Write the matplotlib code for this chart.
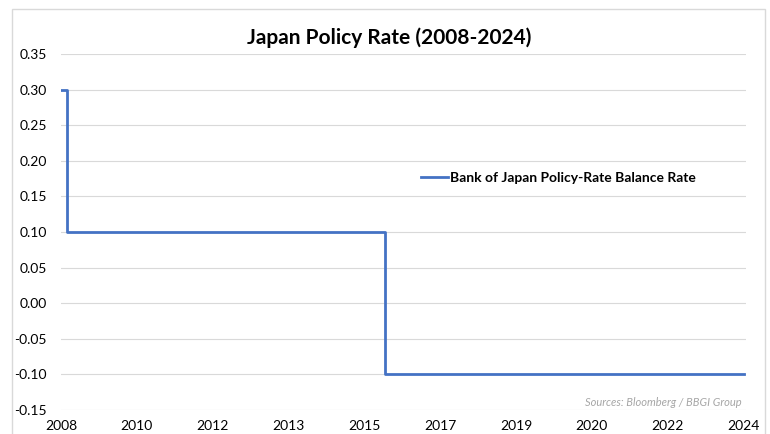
import matplotlib
matplotlib.use("Agg")
import matplotlib.pyplot as plt
import matplotlib.dates as mdates
from matplotlib.patches import Rectangle
import numpy as np
import datetime as dt

# policy rate changes (step series)
change_dates = ["2008-10-31", "2008-12-19", "2016-02-16", "2024-03-18"]
rates = [0.30, 0.10, -0.10, -0.10]
tick_labels = ["2008", "2010", "2012", "2013", "2015", "2017", "2019", "2020", "2022", "2024"]

plt.rcParams['font.family'] = ['Lato', 'DejaVu Sans']

dates = [dt.datetime.strptime(d, "%Y-%m-%d") for d in change_dates]
x = mdates.date2num(dates)

fig = plt.figure(figsize=(7.7, 4.34), dpi=100)
# chart box outline
fig.patches.append(Rectangle((12 / 770, -0.01), 753 / 770, 1 - 9 / 434 + 0.01,
                             transform=fig.transFigure, fill=False,
                             edgecolor='#d9d9d9', linewidth=1.0))

ax = fig.add_axes([61 / 770, 1 - 410 / 434, 685 / 770, (410 - 54) / 434])
ax.step(x, rates, where='post', color='#4472C4', linewidth=2.0,
        label='Bank of Japan Policy-Rate Balance Rate')

ax.set_xlim(x[0], x[-1] + 20)
ax.set_ylim(-0.15, 0.35)
ax.set_yticks(np.arange(-0.15, 0.351, 0.05))
ax.set_yticklabels(['%.2f' % v for v in np.arange(-0.15, 0.351, 0.05)])
ax.set_xticks(np.linspace(x[0], x[-1], len(tick_labels)))
ax.set_xticklabels(tick_labels)
ax.tick_params(axis='both', length=0, labelsize=10, colors='#000000')
ax.tick_params(axis='x', pad=7)
ax.tick_params(axis='y', pad=10)
ax.grid(axis='y', color='#d9d9d9', linewidth=0.8)
ax.set_axisbelow(True)
for s in ax.spines.values():
    s.set_visible(False)

fig.text(389 / 770, 1 - 38 / 434, 'Japan Policy Rate (2008-2024)', ha='center', va='center',
         fontsize=15, fontweight='bold')

leg = ax.legend(loc='center left', bbox_to_anchor=((415 - 61) / 685, (410 - 178) / 356),
                frameon=False, handlelength=2.0, handletextpad=0.1, borderaxespad=0,
                prop={'weight': 'bold', 'size': 10})

ax.text(0.993, (410 - 403) / 356, 'Sources: Bloomberg / BBGI Group', transform=ax.transAxes,
        ha='right', va='center', fontsize=8, style='italic', color='#a6a6a6')

fig.savefig('out.png', dpi=100)
